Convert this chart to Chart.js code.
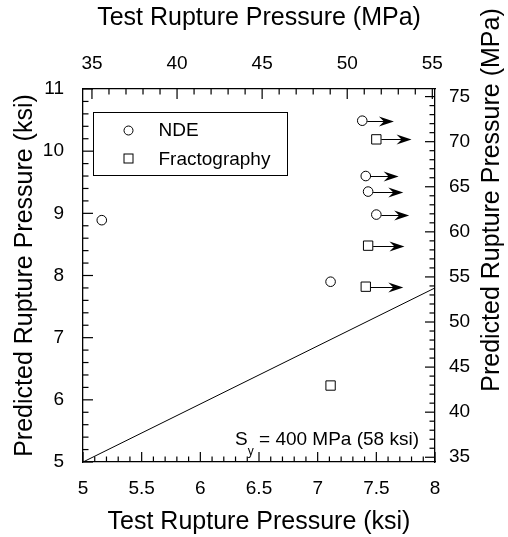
<!DOCTYPE html>
<html>
<head>
<meta charset="utf-8">
<script src="https://cdn.jsdelivr.net/npm/chart.js@4.4.1/dist/chart.umd.min.js"></script>
<style>
    html, body { margin: 0; padding: 0; background: #fff; }
    #wrap { width: 508px; height: 537px; }
</style>
</head>
<body>
<div id="wrap"><canvas id="chart"></canvas></div>
<script>
(function () {
    "use strict";

    // ======================================================================
    // Data (ksi)
    //
    const KSI_TO_MPA = 6.89476;

    const ndeTest = [5.16, 7.11, 7.38, 7.41, 7.43, 7.50];
    const ndePred = [8.89, 7.90, 10.49, 9.60, 9.35, 8.98];
    const ndeArrowTo = [null, null, 7.65, 7.69, 7.73, 7.78];

    const fracTest = [7.11, 7.50, 7.43, 7.41];
    const fracPred = [6.23, 10.19, 8.48, 7.82];
    const fracArrowTo = [null, 7.80, 7.74, 7.73];

    const yieldTest = [5, 8];
    const yieldPred = [5, 7.8];

    const ksiTicksX = [5, 5.5, 6, 6.5, 7, 7.5, 8];
    const ksiTicksY = [5, 6, 7, 8, 9, 10, 11];
    const mpaTicksX = [35, 40, 45, 50, 55];
    const mpaTicksY = [35, 40, 45, 50, 55, 60, 65, 70, 75];

    // ======================================================================
    // Helpers
    //
    const FONT = "'Liberation Sans', Arial, Helvetica, sans-serif";
    Chart.defaults.font.family = FONT;
    Chart.defaults.color = '#000';

    const zip = (xs, ys) => xs.map((x, i) => ({ x: x, y: ys[i] }));
    const fixTicks = list => scale => { scale.ticks = list.map(v => ({ value: v })); };

    function axis(opts) {
        return {
            type: 'linear',
            position: opts.position,
            min: opts.min,
            max: opts.max,
            afterBuildTicks: fixTicks(opts.ticks),
            afterFit: opts.fit,
            grid: { display: false, drawTicks: false },
            border: { display: true, color: '#000', width: 1.3 },
            ticks: {
                font: { size: 19 },
                color: '#000',
                padding: opts.pad,
                autoSkip: false,
                maxRotation: 0,
                callback: v => String(v)
            },
            title: opts.title ? {
                display: true,
                text: opts.title,
                color: '#000',
                font: { size: 25 },
                padding: opts.titlePad
            } : { display: false }
        };
    }

    // inward tick marks as thin filled bars; every perMajor-th one is long
    function drawTicks(ctx, a, scale, minorStep, perMajor, side) {
        const k0 = Math.ceil(scale.min / minorStep - 1e-6);
        const k1 = Math.floor(scale.max / minorStep + 1e-6);
        const w = 1.2;
        for (let k = k0; k <= k1; k++) {
            const len = (k % perMajor === 0) ? 10 : 5.5;
            const p = scale.getPixelForValue(k * minorStep);
            if (side === 'bottom') ctx.fillRect(p - w / 2, a.bottom - len, w, len);
            else if (side === 'top') ctx.fillRect(p - w / 2, a.top, w, len);
            else if (side === 'left') ctx.fillRect(a.left, p - w / 2, len, w);
            else ctx.fillRect(a.right - len, p - w / 2, len, w);
        }
    }

    // ======================================================================
    // Plugin: arrows, legend, note, ticks, right title
    //
    const decor = {
        id: 'decor',
        afterDraw(chart) {
            const ctx = chart.ctx;
            const a = chart.chartArea;
            const sx = chart.scales.x, sy = chart.scales.y;

            ctx.save();
            ctx.globalAlpha = 1;
            ctx.setLineDash([]);
            ctx.strokeStyle = '#000';
            ctx.fillStyle = '#000';
            ctx.lineWidth = 1;

            // run-out arrows
            const arrows = (xs, ys, tos, gap) => {
                xs.forEach((x, i) => {
                    if (tos[i] == null) return;
                    const px = sx.getPixelForValue(x);
                    const py = Math.round(sy.getPixelForValue(ys[i])) + 0.5;
                    const tip = sx.getPixelForValue(tos[i]);
                    ctx.beginPath();
                    ctx.moveTo(px + gap, py);
                    ctx.lineTo(tip - 8, py);
                    ctx.stroke();
                    ctx.beginPath();
                    ctx.moveTo(tip, py);
                    ctx.lineTo(tip - 15, py - 5);
                    ctx.lineTo(tip - 10, py);
                    ctx.lineTo(tip - 15, py + 5);
                    ctx.closePath();
                    ctx.fill();
                });
            };
            arrows(ndeTest, ndePred, ndeArrowTo, 5);
            arrows(fracTest, fracPred, fracArrowTo, 5);

            // legend box
            const lx = a.left + 10.5, ly = a.top + 23.5;
            ctx.strokeRect(lx, ly, 194, 63);
            ctx.fillStyle = '#fff';
            ctx.beginPath();
            ctx.arc(lx + 35, ly + 18, 4.5, 0, Math.PI * 2);
            ctx.fill();
            ctx.stroke();
            ctx.fillRect(lx + 30.5, ly + 41.5, 9, 9);
            ctx.strokeRect(lx + 30.5, ly + 41.5, 9, 9);
            ctx.fillStyle = '#000';
            ctx.font = '19px ' + FONT;
            ctx.textBaseline = 'middle';
            ctx.textAlign = 'left';
            ctx.fillText('NDE', lx + 65, ly + 18);
            ctx.fillText('Fractography', lx + 65, ly + 47);

            // yield-strength note
            ctx.textBaseline = 'alphabetic';
            ctx.textAlign = 'right';
            const rest = ' = 400 MPa (58 ksi)';
            const nx = a.right - 16, ny = a.bottom - 17;
            ctx.fillText(rest, nx, ny);
            const restW = ctx.measureText(rest).width;
            ctx.font = '12px ' + FONT;
            ctx.fillText('y', nx - restW, ny + 10);
            const yW = ctx.measureText('y').width;
            ctx.font = '19px ' + FONT;
            ctx.fillText('S', nx - restW - yW, ny);

            // inward ticks on all four sides
            ctx.fillStyle = '#000';
            drawTicks(ctx, a, sx, 0.1, 5, 'bottom');
            drawTicks(ctx, a, sy, 0.2, 5, 'left');
            drawTicks(ctx, a, chart.scales.x2, 1, 5, 'top');
            drawTicks(ctx, a, chart.scales.y2, 1, 5, 'right');

            // right title, reading bottom to top
            ctx.font = '25px ' + FONT;
            ctx.textAlign = 'center';
            ctx.textBaseline = 'middle';
            ctx.translate(492, 200);
            ctx.rotate(-Math.PI / 2);
            ctx.fillText('Predicted Rupture Pressure (MPa)', 0, 0);
            ctx.restore();
        }
    };

    // ======================================================================
    // Chart
    //
    new Chart(document.getElementById('chart'), {
        type: 'scatter',
        data: {
            datasets: [
                {
                    label: 'Yield line',
                    data: zip(yieldTest, yieldPred),
                    showLine: true,
                    borderColor: '#000',
                    borderWidth: 1,
                    pointRadius: 0,
                    xAxisID: 'x',
                    yAxisID: 'y'
                },
                {
                    label: 'NDE',
                    data: zip(ndeTest, ndePred),
                    pointStyle: 'circle',
                    pointRadius: 4.8,
                    borderColor: '#000',
                    backgroundColor: '#fff',
                    borderWidth: 1,
                    xAxisID: 'x',
                    yAxisID: 'y'
                },
                {
                    label: 'Fractography',
                    data: zip(fracTest, fracPred),
                    pointStyle: 'rect',
                    pointRadius: 6.6,
                    borderColor: '#000',
                    backgroundColor: '#fff',
                    borderWidth: 1,
                    xAxisID: 'x',
                    yAxisID: 'y'
                }
            ]
        },
        options: {
            responsive: true,
            maintainAspectRatio: false,
            animation: false,
            layout: { padding: 0 },
            plugins: { legend: { display: false }, tooltip: { enabled: false } },
            scales: {
                x: axis({
                    position: 'bottom', min: 5, max: 8, ticks: ksiTicksX, pad: 15,
                    fit: s => { s.height = 75; },
                    title: 'Test Rupture Pressure (ksi)', titlePad: { top: 0, bottom: 0 }
                }),
                x2: axis({
                    position: 'top', min: 5 * KSI_TO_MPA, max: 8 * KSI_TO_MPA, ticks: mpaTicksX, pad: 14,
                    fit: s => { s.height = 89; },
                    title: 'Test Rupture Pressure (MPa)', titlePad: { top: 3, bottom: 0 }
                }),
                y: axis({
                    position: 'left', min: 5, max: 11, ticks: ksiTicksY, pad: 19,
                    fit: s => { s.width = 83; },
                    title: 'Predicted Rupture Pressure (ksi)', titlePad: { top: 10, bottom: 0 }
                }),
                y2: axis({
                    position: 'right', min: 5 * KSI_TO_MPA, max: 11 * KSI_TO_MPA, ticks: mpaTicksY, pad: 14,
                    fit: s => { s.width = 73; }
                })
            }
        },
        plugins: [decor]
    });
})();
</script>
</body>
</html>
